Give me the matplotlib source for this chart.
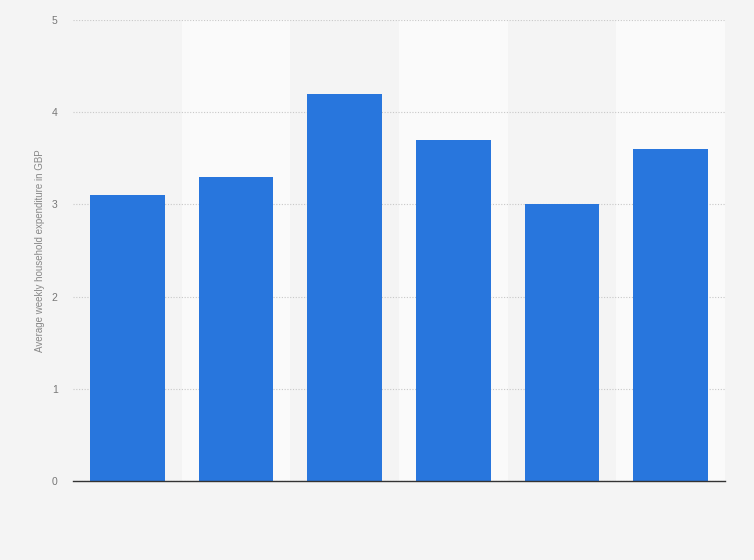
import matplotlib
matplotlib.use("Agg")
import matplotlib.pyplot as plt
import numpy as np

plt.rcParams["font.family"] = ["Liberation Sans", "DejaVu Sans"]

categories = ["A", "B", "C", "D", "E", "F"]
values = [3.1, 3.3, 4.2, 3.7, 3.0, 3.6]
yticks = [0, 1, 2, 3, 4, 5]
ylabel = "Average weekly household expenditure in GBP"

fig = plt.figure(figsize=(7.54, 5.6), dpi=100)
fig.patch.set_facecolor("#f4f4f4")
ax = fig.add_axes([73/754, 1-481/560, (725-73)/754, (481-20)/560])
ax.set_facecolor("#f4f4f4")

x = np.arange(len(categories))
for i in x:
    if i % 2 == 1:
        ax.axvspan(i-0.5, i+0.5, color="#fafafa", zorder=0, lw=0)

ax.bar(x, values, width=0.69, color="#2876dd", zorder=3)
ax.set_xlim(-0.5, len(categories)-0.5)
ax.set_ylim(0, 5)
ax.set_yticks(yticks)
ax.set_yticklabels([str(t) for t in yticks], color="#777777", fontsize=7.5)
ax.set_xticks(x)
ax.set_xticklabels(["" for _ in categories])
ax.tick_params(axis="x", length=0)
ax.tick_params(axis="y", length=0, pad=11)
ax.yaxis.grid(True, linestyle=(0, (1, 1.5)), color="#c8c8c8", linewidth=0.8, zorder=1)
for s in ["top", "right", "left"]:
    ax.spines[s].set_visible(False)
ax.spines["bottom"].set_color("#333333")
ax.spines["bottom"].set_linewidth(1.0)
ax.spines["bottom"].set_zorder(4)
ax.set_ylabel(ylabel, color="#888888", fontsize=7)
ax.yaxis.set_label_coords((45-73)/652, 0.5)

fig.savefig("out.png", dpi=100, facecolor=fig.get_facecolor())
